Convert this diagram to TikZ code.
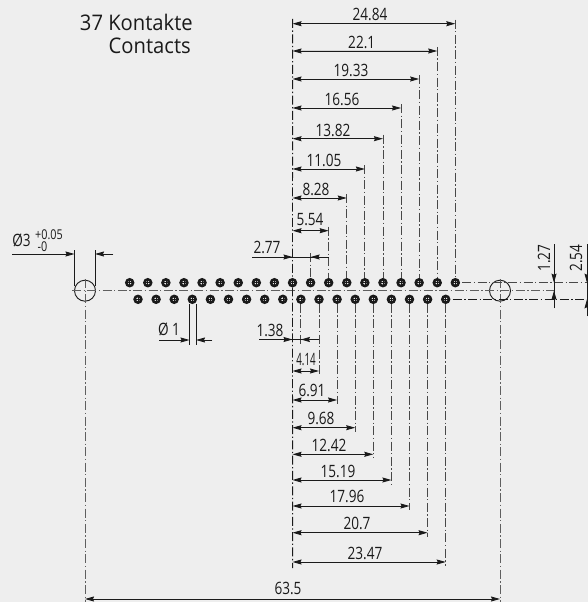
\documentclass[tikz,border=0pt]{standalone}
\usepackage{fontspec}
\usepackage{graphicx}
\setmainfont{Open Sans}[FakeStretch=0.8]
\newfontfamily\titlefont{Open Sans}[FakeStretch=0.94]
\usetikzlibrary{arrows.meta}
\definecolor{bg}{HTML}{EEEEEE}
\definecolor{ink}{HTML}{1A1A1A}
\tikzset{
  contact/.style={circle,draw=ink,line width=2.6pt,fill=bg,inner sep=0pt,minimum size=6.7pt},
  hole/.style={circle,draw=ink,line width=.9pt,inner sep=0pt,minimum size=21pt},
  ext/.style={draw=ink!80,line width=.9pt,dash pattern=on 9pt off 2.5pt on 1.3pt off 2.5pt},
  extdark/.style={ext,draw=ink},
  center line/.style={ext,draw=ink!70},
  solid line/.style={draw=ink,line width=.9pt},
  dimline/.style={draw=ink,line width=.9pt},
  tip/.style={-{Stealth[length=9pt,width=5pt,inset=1pt]},draw=ink,fill=ink,line width=.9pt},
  both tips/.style={{Stealth[length=9pt,width=5pt,inset=1pt]}-{Stealth[length=9pt,width=5pt,inset=1pt]},draw=ink,fill=ink,line width=.9pt},
  dimtext/.style={text=ink,font=\fontsize{17}{17}\selectfont,inner sep=0pt},
  titletext/.style={text=ink,font=\titlefont\fontsize{21.5}{21.5}\selectfont,inner sep=0pt,anchor=base east}
}
\begin{document}
\begin{tikzpicture}[x=1pt,y=-1pt]
\useasboundingbox[fill=bg] (0,0) rectangle (588,602);

% holes
\node[hole] (hl) at (85,290.7) {};
\node[hole] (hr) at (500,290.7) {};

% center lines and outer extension coordinates
\coordinate (cl) at (72,290.7);
\coordinate (cr) at (555,290.7);
\draw[center line] (cl) -- (cr);
\coordinate (hlt) at (85,279);
\coordinate (hrt) at (500,279);
\coordinate (hlm) at (85,603);
\coordinate (hrm) at (500,603);
\draw[center line] (hlt) -- (hlm);
\draw[center line] (hrt) -- (hrm);

% contacts
\foreach \i in {0,...,18}{
  \node[contact] (u\i) at ({129.7+18.09*\i},282.7) {};
  \draw[draw=ink,line width=.6pt] ([xshift=-2pt]u\i.center) -- ([xshift=2pt]u\i.center);
  \draw[draw=ink,line width=.6pt] ([yshift=-2pt]u\i.center) -- ([yshift=2pt]u\i.center);
}
\foreach \i in {0,...,17}{
  \node[contact] (l\i) at ({138+18.1*\i},299.3) {};
  \draw[draw=ink,line width=.6pt] ([xshift=-2pt]l\i.center) -- ([xshift=2pt]l\i.center);
  \draw[draw=ink,line width=.6pt] ([yshift=-2pt]l\i.center) -- ([yshift=2pt]l\i.center);
}

% datum line
\coordinate (dt) at (292.6,19);
\coordinate (db) at (292.6,568);
\draw[extdark] (dt) -- (u9);
\draw[extdark] (u9) -- (db);

% upper dimensions: contact / dim y / label x / label y / text
\foreach \k/\yy/\lx/\ly/\txt in {
  18/23.7/370/14.5/24.84,
  17/51/361.7/42.5/22.1,
  16/79/351/70/19.33,
  15/108/342/99.5/16.56,
  14/138.7/333/130/13.82,
  13/169/324/160/11.05,
  12/198/316/189/8.28,
  11/230.7/310/220/5.54}{
  \coordinate (ua\k) at (u\k |- 0,\yy);
  \coordinate (ue\k) at (u\k |- 0,{\yy-4});
  \coordinate (ud\k) at (u9 |- 0,\yy);
  \draw[ext] (ue\k) -- (u\k);
  \draw[both tips] (ud\k) -- (ua\k);
  \node[dimtext] (ut\k) at (\lx,\ly) {\txt};
}

% lower dimensions
\foreach \k/\yy/\lx/\ly/\txt in {
  17/562/365/553.5/23.47,
  16/532.7/357/523/20.7,
  15/506/347/496.5/17.96,
  14/480/338/471/15.19,
  13/454.3/329/445.5/12.42,
  12/427.7/321/418/9.68,
  11/400/312/390/6.91}{
  \coordinate (la\k) at (l\k |- 0,\yy);
  \coordinate (le\k) at (l\k |- 0,{\yy+4});
  \coordinate (ld\k) at (u9 |- 0,\yy);
  \draw[ext] (l\k) -- (le\k);
  \draw[both tips] (ld\k) -- (la\k);
  \node[dimtext] (lt\k) at (\lx,\ly) {\txt};
}

% 4.14
\coordinate (la10) at (l10 |- 0,371);
\coordinate (ld10) at (u9 |- 0,371);
\coordinate (le10) at (l10 |- 0,375);
\draw[ext] (l10) -- (le10);
\draw[both tips] (ld10) -- (la10);
\node[dimtext] (lt10) at (306,360) {\scalebox{.72}[1]{4.14}};

% 5.54 companion: 2.77
\coordinate (ua10) at (u10 |- 0,257);
\coordinate (ue10) at (u10 |- 0,253);
\coordinate (ud10) at (u9 |- 0,257);
\coordinate (a277) at (252,257);
\coordinate (b277) at (u11 |- 0,257);
\draw[ext] (ue10) -- (u10);
\draw[dimline] (a277) -- (b277);
\draw[tip] (a277) -- (ud10);
\draw[tip] (b277) -- (ua10);
\node[dimtext] (t277) at (267,247) {2.77};

% 1.38
\coordinate (la9) at (l9 |- 0,339.5);
\coordinate (le9) at (l9 |- 0,344);
\coordinate (ld9) at (u9 |- 0,339.5);
\coordinate (a138) at (259,339.5);
\coordinate (b138) at (l10 |- 0,339.5);
\draw[ext] (l9) -- (le9);
\draw[dimline] (a138) -- (b138);
\draw[tip] (a138) -- (ld9);
\draw[tip] (b138) -- (la9);
\node[dimtext] (t138) at (270,330) {1.38};

% 63.5
\coordinate (a635) at (85,599);
\coordinate (b635) at (500,599);
\draw[both tips] (a635) -- (b635);
\node[dimtext] (t635) at (288,588) {63.5};

% diameter 3
\coordinate (d3a) at (74.5,286);
\coordinate (d3b) at (74.5,250);
\coordinate (d3c) at (95,286);
\coordinate (d3d) at (95,250);
\coordinate (d3e) at (12,254);
\coordinate (d3f) at (113,254);
\coordinate (d3g) at (74.5,254);
\coordinate (d3h) at (95,254);
\draw[solid line] (d3a) -- (d3b);
\draw[solid line] (d3c) -- (d3d);
\draw[tip] (d3e) -- (d3g);
\draw[tip] (d3f) -- (d3h);
\node[dimtext] (t3) at (21.5,240.5) {Ø3};
\node[dimtext,font=\fontsize{13.5}{13.5}\selectfont] (t3a) at (49,235) {+0.05};
\node[dimtext,font=\fontsize{13.5}{13.5}\selectfont] (t3b) at (42.5,247) {-0};

% diameter 1
\coordinate (d1a) at (189.5,304);
\coordinate (d1b) at (189.5,345);
\coordinate (d1c) at (196,304);
\coordinate (d1d) at (196,345);
\coordinate (d1e) at (159,340);
\coordinate (d1f) at (212,340);
\coordinate (d1g) at (189.5,340);
\coordinate (d1h) at (196,340);
\draw[solid line] (d1a) -- (d1b);
\draw[solid line] (d1c) -- (d1d);
\draw[tip] (d1e) -- (d1g);
\draw[tip] (d1f) -- (d1h);
\node[dimtext] (t1) at (169,329) {Ø 1};

% right extension lines
\coordinate (re1) at (588,282.7);
\coordinate (re2) at (588,299.3);
\draw[ext] (u18) ++(7,0) -- (re1);
\draw[extdark] (l17) ++(7,0) -- (re2);

% 1.27
\coordinate (v1a) at (554,244);
\coordinate (v1b) at (554,308);
\coordinate (v1c) at (554,282.7);
\coordinate (v1d) at (554,290.7);
\draw[solid line] (v1a) -- (v1b);
\draw[tip] (v1a) -- (v1c);
\draw[tip] (v1b) -- (v1d);
\node[dimtext,rotate=90] (t127) at (544,258) {1.27};

% 2.54
\coordinate (v2a) at (587,244);
\coordinate (v2b) at (587,316);
\coordinate (v2c) at (587,282.7);
\coordinate (v2d) at (587,299.3);
\draw[solid line] (v2a) -- (v2b);
\draw[tip] (v2a) -- (v2c);
\draw[tip] (v2b) -- (v2d);
\node[dimtext,rotate=90] (t254) at (576,258) {2.54};

% title
\node[titletext] (title1) at (193,31) {37 Kontakte};
\node[titletext] (title2) at (191,54) {Contacts};
\end{tikzpicture}
\end{document}
